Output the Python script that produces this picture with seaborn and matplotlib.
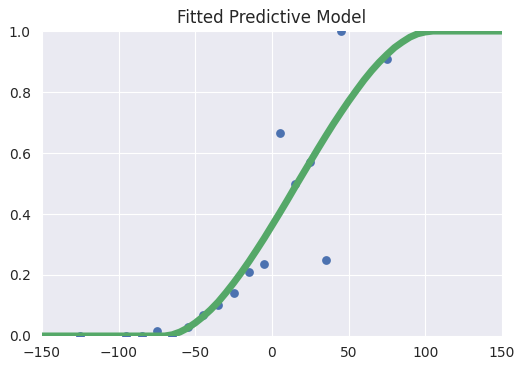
import matplotlib
matplotlib.use("Agg")
import matplotlib.pyplot as plt
import seaborn as sns
import pandas as pd

sns.set_style("darkgrid")
plt.rcParams["font.family"] = ["DejaVu Sans"]

# --- Observed data points ---
obs_x = [-125, -95, -85, -75, -65, -55, -45, -35, -25, -15, -5, 5, 15, 25, 35, 45, 75]
obs_y = [0.0, 0.0, 0.0, 0.016, 0.0, 0.03, 0.07, 0.10, 0.14, 0.21, 0.235,
         0.665, 0.50, 0.57, 0.25, 1.0, 0.91]

# --- Fitted model curve ---
fit_x = [-150, -140, -130, -120, -110, -100, -90, -80, -70, -65, -60, -55, -50,
         -45, -40, -35, -30, -25, -20, -15, -10, -5, 0, 5, 10, 15, 20, 25,
         30, 35, 40, 45, 50, 55, 60, 65, 70, 75, 80, 85, 90, 95, 100, 105,
         110, 120, 130, 140, 150]
fit_y = [0.0, 0.0, 0.0, 0.0, 0.0, 0.0, 0.0, 0.0, 0.0, 0.004, 0.013, 0.026, 0.043,
         0.063, 0.086, 0.112, 0.142, 0.174, 0.208, 0.244, 0.282, 0.321, 0.362,
         0.403, 0.445, 0.488, 0.530, 0.572, 0.614, 0.655, 0.695, 0.733, 0.770,
         0.805, 0.839, 0.870, 0.898, 0.923, 0.946, 0.964, 0.980, 0.991, 0.997,
         1.0, 1.0, 1.0, 1.0, 1.0, 1.0]

df_obs = pd.DataFrame({"x": obs_x, "y": obs_y})
df_fit = pd.DataFrame({"x": fit_x, "y": fit_y})

fig = plt.figure(figsize=(5.25, 3.7), dpi=100)
ax = fig.add_axes([0.08, 0.092, 0.876, 0.824])

sns.scatterplot(data=df_obs, x="x", y="y", ax=ax, color="#4C72B0",
                s=40, linewidth=0, zorder=2)
sns.lineplot(data=df_fit, x="x", y="y", ax=ax, color="#55A868",
             linewidth=5, zorder=3)

ax.set_xlim(-150, 150)
ax.set_ylim(0, 1.0)
ax.set_xticks([-150, -100, -50, 0, 50, 100, 150])
ax.set_yticks([0.0, 0.2, 0.4, 0.6, 0.8, 1.0])
ax.set_xlabel("")
ax.set_ylabel("")
ax.tick_params(axis="x", labelsize=10, colors="#262626", length=0, pad=7)
ax.tick_params(axis="y", labelsize=10, colors="#262626", length=0, pad=8)
ax.set_title("Fitted Predictive Model", fontsize=12, color="#262626")
for s in ax.spines.values():
    s.set_visible(False)

fig.savefig("out.png", dpi=100)
